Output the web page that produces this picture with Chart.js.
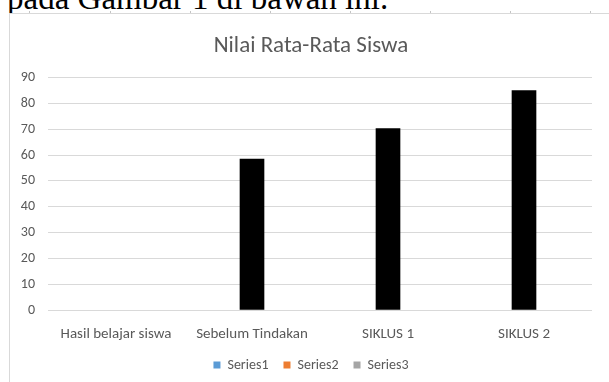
<!DOCTYPE html>
<html>
<head>
<meta charset="utf-8">
<script src="https://cdn.jsdelivr.net/npm/chart.js@4"></script>
<style>
html,body{margin:0;padding:0;background:#fff;width:609px;height:382px;overflow:hidden;}
#clip{position:absolute;left:0;top:0;width:609px;height:13px;overflow:hidden;}
#doc{position:absolute;left:7px;top:-18px;font-family:"Liberation Serif","Times New Roman",serif;font-size:33px;line-height:33px;color:#000;white-space:nowrap;}
#frame{position:absolute;left:9px;top:13px;width:600px;height:369px;border-left:1px solid #d9d9d9;border-top:1px solid #d9d9d9;background:#fff;}
.tk{position:absolute;top:11px;width:1px;height:2px;background:#c4c4c4;}
#wrap{position:absolute;left:0;top:0;width:622px;height:382px;}
</style>
</head>
<body>
<div id="clip"><div id="doc">pada Gambar 1 di bawah ini.</div></div>
<div id="frame"></div>
<div class="tk" style="left:29px"></div>
<div class="tk" style="left:110px"></div>
<div class="tk" style="left:190px"></div>
<div class="tk" style="left:270px"></div>
<div class="tk" style="left:350px"></div>
<div class="tk" style="left:430px"></div>
<div class="tk" style="left:510px"></div>
<div class="tk" style="left:590px"></div>
<div id="wrap"><canvas id="c" width="622" height="382"></canvas></div>
<script>
const chartTitle = "Nilai Rata-Rata Siswa";
const categories = ["Hasil belajar siswa", "Sebelum Tindakan", "SIKLUS 1", "SIKLUS 2"];
const seriesNames = ["Series1", "Series2", "Series3"];
const series1 = [null, null, null, null];
const series2 = [null, 58.4, 70.3, 85.0];
const series3 = [null, null, null, null];
const yTicks = [0, 10, 20, 30, 40, 50, 60, 70, 80, 90];

const legendColors = ["#5B9BD5", "#ED7D31", "#A5A5A5"];
const barColors = ["#5B9BD5", "#000000", "#A5A5A5"];
const textColor = "#595959";
const gridColor = "#d9d9d9";
const fontFamily = "Carlito, Lato, sans-serif";

new Chart(document.getElementById("c"), {
  type: "bar",
  data: {
    labels: categories,
    datasets: [series1, series2, series3].map((d, i) => ({
      label: seriesNames[i],
      data: d,
      backgroundColor: barColors[i],
      borderWidth: 0,
      barThickness: 24,
      yAxisID: "y"
    }))
  },
  options: {
    responsive: false,
    animation: false,
    events: [],
    layout: { padding: 0 },
    plugins: {
      tooltip: { enabled: false },
      title: {
        display: true,
        text: chartTitle,
        color: textColor,
        font: { family: fontFamily, size: 23, weight: "normal" },
        padding: { top: 32, bottom: 18 }
      },
      legend: {
        display: true,
        position: "bottom",
        labels: {
          color: textColor,
          font: { family: fontFamily, size: 14 },
          boxWidth: 7,
          boxHeight: 7,
          padding: 15,
          generateLabels: (chart) => chart.data.datasets.map((ds, i) => ({
            text: ds.label,
            fillStyle: legendColors[i],
            strokeStyle: legendColors[i],
            lineWidth: 0,
            fontColor: textColor,
            hidden: false,
            datasetIndex: i
          }))
        }
      }
    },
    scales: {
      x: {
        grid: { display: false },
        border: { display: false },
        ticks: {
          color: textColor,
          font: { family: fontFamily, size: 15 },
          padding: 7,
          maxRotation: 0,
          autoSkip: false
        },
        afterFit: (s) => { s.height = 33; }
      },
      y: {
        position: "left",
        min: 0,
        max: 90,
        grid: { color: gridColor, lineWidth: 1, drawTicks: false },
        border: { display: false },
        ticks: {
          color: textColor,
          font: { family: fontFamily, size: 14 },
          padding: 13
        },
        afterBuildTicks: (s) => { s.ticks = yTicks.map(v => ({ value: v })); },
        afterFit: (s) => { s.width = 48; }
      },
      yRightSpace: {
        type: "linear",
        position: "right",
        min: 0,
        max: 90,
        grid: { display: false, drawTicks: false },
        border: { display: false },
        ticks: { display: false },
        afterFit: (s) => { s.width = 30; }
      }
    }
  }
});
</script>
</body>
</html>
